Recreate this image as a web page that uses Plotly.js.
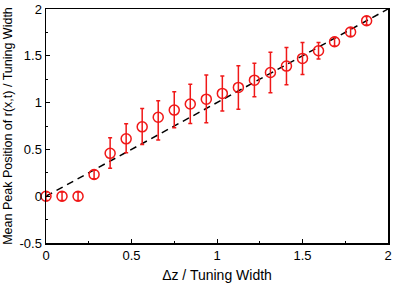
<!DOCTYPE html>
<html><head><meta charset="utf-8">
<script src="https://cdn.plot.ly/plotly-3.0.1.min.js"></script>
<style>html,body{margin:0;padding:0;background:#fff}#plot{width:397px;height:286px}</style>
</head><body><div id="plot"></div>
<script>
const dz = [0, 0.09375, 0.1875, 0.28125, 0.375, 0.46875, 0.5625, 0.65625, 0.75, 0.84375, 0.9375, 1.03125, 1.125, 1.21875, 1.3125, 1.40625, 1.5, 1.59375, 1.6875, 1.78125, 1.875];
const meanPeak = [0, 0, 0, 0.232, 0.458, 0.613, 0.741, 0.843, 0.92, 0.985, 1.037, 1.098, 1.162, 1.24, 1.322, 1.39, 1.472, 1.554, 1.65, 1.754, 1.875];
const errUp = [0.045, 0.045, 0.045, 0.045, 0.167, 0.162, 0.196, 0.177, 0.195, 0.21, 0.257, 0.185, 0.232, 0.18, 0.215, 0.2, 0.171, 0.088, 0.045, 0.045, 0.045];
const errDown = [0.045, 0.045, 0.045, 0.045, 0.16, 0.148, 0.188, 0.243, 0.19, 0.208, 0.253, 0.189, 0.232, 0.178, 0.217, 0.2, 0.172, 0.089, 0.045, 0.045, 0.045];
const refX = [0, 2];
const refY = [0, 2];

const red = '#f01818';
const data = [
  {x: refX, y: refY, mode: 'lines', type: 'scatter', line: {color: '#000', width: 1.5, dash: '7px,5px'}, hoverinfo: 'skip'},
  {x: dz, y: meanPeak, mode: 'markers', type: 'scatter', cliponaxis: false,
   marker: {symbol: 'circle-open', size: 10, color: red, line: {color: red, width: 1.5}},
   error_y: {type: 'data', symmetric: false, array: errUp, arrayminus: errDown, color: red, thickness: 1.5, width: 2}}
];
const tickFont = {family: 'Liberation Sans, Arial, sans-serif', size: 13, color: '#000'};
const titleFont = {family: 'Liberation Sans, Arial, sans-serif', size: 14, color: '#000'};
const yTitleFont = {family: 'Liberation Sans, Arial, sans-serif', size: 12.5, color: '#000'};
const layout = {
  width: 397, height: 286,
  margin: {l: 46, r: 9, t: 9, b: 43},
  showlegend: false,
  paper_bgcolor: '#fff', plot_bgcolor: '#fff',
  xaxis: {range: [0, 2], tickvals: [0, 0.5, 1, 1.5, 2], ticktext: ['0', '0.5', '1', '1.5', '2'],
    ticks: 'inside', ticklen: 4, tickwidth: 1, tickcolor: '#000',
    minor: {dtick: 0.25, ticks: 'inside', ticklen: 2, tickcolor: '#000', showgrid: false},
    showline: true, linecolor: '#000', linewidth: 1.5, mirror: true, showgrid: false, zeroline: false,
    tickfont: tickFont, title: {text: 'Δz / Tuning Width', font: titleFont, standoff: 8}},
  yaxis: {range: [-0.5, 2], tickvals: [-0.5, 0, 0.5, 1, 1.5, 2], ticktext: ['-0.5', '0', '0.5', '1', '1.5', '2'],
    ticks: 'inside', ticklen: 4, tickwidth: 1, tickcolor: '#000',
    minor: {dtick: 0.25, ticks: 'inside', ticklen: 2, tickcolor: '#000', showgrid: false},
    showline: true, linecolor: '#000', linewidth: 1.5, mirror: true, showgrid: false, zeroline: false,
    tickfont: tickFont, title: {text: 'Mean Peak Position of r(x,t) / Tuning Width', font: yTitleFont, standoff: 4}}
};
Plotly.newPlot('plot', data, layout, {displayModeBar: false, staticPlot: true});
</script></body></html>
